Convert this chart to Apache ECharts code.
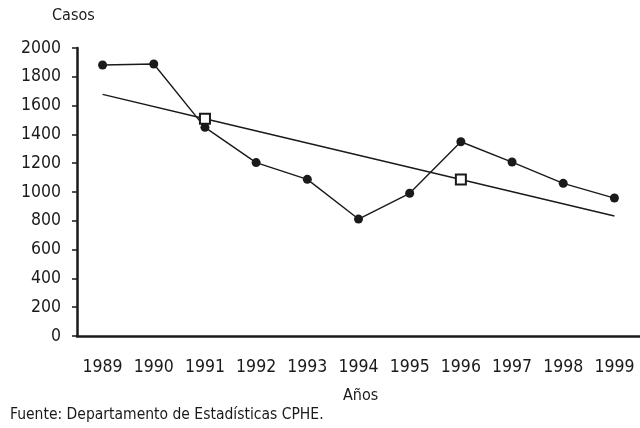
<!DOCTYPE html>
<html>
<head>
<meta charset="utf-8">
<script src="https://cdn.jsdelivr.net/npm/echarts@6/dist/echarts.min.js"></script>
<style>
  html, body { margin: 0; padding: 0; background: #fff; }
  #chart { width: 640px; height: 428px; }
</style>
</head>
<body>
<div id="chart"></div>
<script>
// datos
const years = ['1989', '1990', '1991', '1992', '1993', '1994', '1995', '1996', '1997', '1998', '1999'];
const casos = [1882, 1889, 1449, 1204, 1088, 812, 991, 1349, 1208, 1060, 958];
// tendencia: extremos y los dos marcadores cuadrados
const tendencia = [1678, null, 1509, null, null, null, null, 1087, null, null, 833];
const marcados = [false, false, true, false, false, false, false, true, false, false, false];

const ink = '#1a1a1a';
const font = "'DejaVu Sans Condensed', 'Liberation Sans Narrow', sans-serif";

const chart = echarts.init(document.querySelector('#chart'));
chart.setOption({
    animation: false,
    grid: {
        left: 77,
        top: 48,
        width: 569,
        bottom: 92,
    },
    xAxis: {
        type: 'category',
        data: years,
        boundaryGap: true,
        axisLine: { lineStyle: { color: ink, width: 2.5 } },
        axisTick: { interval: 0, length: 4, lineStyle: { color: ink, width: 1.5 } },
        axisLabel: {
            interval: 0,
            hideOverlap: false,
            color: ink,
            fontFamily: font,
            fontSize: 17.5,
            margin: 22,
        },
    },
    yAxis: {
        type: 'value',
        min: 0,
        max: 2000,
        interval: 200,
        splitLine: { show: false },
        axisLine: { show: true, lineStyle: { color: ink, width: 2.5 } },
        axisTick: { show: true, length: 5, lineStyle: { color: ink, width: 1.5 } },
        axisLabel: {
            color: ink,
            fontFamily: font,
            fontSize: 17.5,
            margin: 16,
            formatter: v => String(v),
        },
    },
    series: [
        {
            type: 'line',
            data: casos,
            symbol: 'circle',
            symbolSize: 9,
            itemStyle: { color: ink },
            lineStyle: { color: ink, width: 1.4 },
        },
        {
            type: 'line',
            connectNulls: true,
            data: tendencia.map((v, i) => ({
                value: v,
                symbol: marcados[i] ? 'rect' : 'none',
            })),
            symbolSize: 10,
            itemStyle: { color: '#fff', borderColor: ink, borderWidth: 2 },
            lineStyle: { color: ink, width: 1.4 },
        },
    ],
    graphic: [
        {
            type: 'text',
            left: 52,
            top: 8,
            style: { text: 'Casos', fill: ink, font: '16px ' + font },
        },
        {
            type: 'text',
            left: 343,
            top: 388,
            style: { text: 'Años', fill: ink, font: '16px ' + font },
        },
        {
            type: 'text',
            left: 10,
            top: 407,
            style: { text: 'Fuente: Departamento de Estadísticas CPHE.', fill: ink, font: '15.5px ' + font },
        },
    ],
});
</script>
</body>
</html>
